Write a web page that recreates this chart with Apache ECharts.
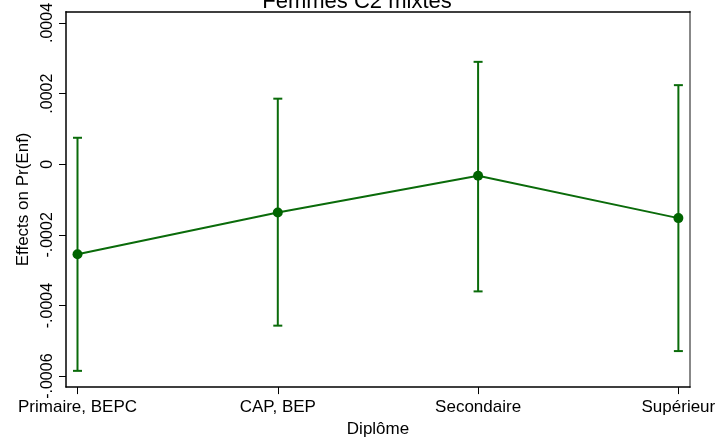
<!DOCTYPE html>
<html>
<head>
<meta charset="utf-8">
<script src="https://cdn.jsdelivr.net/npm/echarts@6/dist/echarts.min.js"></script>
<style>html,body{margin:0;padding:0;background:#fff}#c{width:721px;height:443px}</style>
</head>
<body>
<div id="c"></div>
<script>
var categories = ['Primaire, BEPC', 'CAP, BEP', 'Secondaire', 'Supérieur'];
var effects = [-0.000255, -0.0001365, -0.0000326, -0.0001525];
var upper = [0.000075, 0.0001857, 0.00029, 0.000224];
var lower = [-0.000585, -0.000457, -0.00036, -0.000529];
var yTicks = [-0.0006, -0.0004, -0.0002, 0, 0.0002, 0.0004];
var yTickLabels = ['-.0006', '-.0004', '-.0002', '0', '.0002', '.0004'];

var green = '#0a6b0a';
var font = "'Liberation Sans', Arial, sans-serif";

var lineData = effects.map(function (v, i) { return [i, v]; });
var barData = effects.map(function (v, i) { return [i, lower[i], upper[i]]; });

var chart = echarts.init(document.getElementById('c'), null, {renderer: 'canvas'});
chart.setOption({
  animation: false,
  backgroundColor: '#fff',
  title: {
    text: 'Femmes C2 mixtes',
    left: 352, top: -14, textAlign: 'center',
    textStyle: {fontFamily: font, fontSize: 22, fontWeight: 'normal', color: '#000'}
  },
  grid: {left: 66, top: 9.5, right: 31, bottom: 55},
  xAxis: [{
    type: 'value', min: -0.0574, max: 3.058,
    name: 'Diplôme', nameLocation: 'middle', nameGap: 30,
    nameTextStyle: {fontFamily: font, fontSize: 17, color: '#000'},
    axisLine: {show: true, onZero: false, lineStyle: {color: '#000', width: 1.5}},
    axisTick: {show: true, length: 7, customValues: [0, 1, 2, 3], lineStyle: {color: '#000'}},
    axisLabel: {
      customValues: [0, 1, 2, 3], margin: 12,
      fontFamily: font, fontSize: 17, color: '#000',
      formatter: function (v) { return categories[Math.round(v)]; }
    },
    splitLine: {show: false}
  }, {
    type: 'value', position: 'top', min: -0.0574, max: 3.058,
    axisLine: {show: true, onZero: false, lineStyle: {color: '#000', width: 1.5}},
    axisTick: {show: false}, axisLabel: {show: false}, splitLine: {show: false}
  }],
  yAxis: [{
    type: 'value', min: -0.000631, max: 0.000432,
    name: 'Effects on Pr(Enf)', nameLocation: 'middle', nameGap: 31, nameRotate: 90,
    nameTextStyle: {fontFamily: font, fontSize: 17, color: '#000'},
    axisLine: {show: true, onZero: false, lineStyle: {color: '#000', width: 1.5}},
    axisTick: {show: true, length: 7, customValues: yTicks, lineStyle: {color: '#000'}},
    axisLabel: {
      customValues: yTicks, rotate: 90, margin: 10,
      fontFamily: font, fontSize: 16, color: '#000',
      formatter: function (v) {
        for (var i = 0; i < yTicks.length; i++) { if (Math.abs(yTicks[i] - v) < 1e-9) return yTickLabels[i]; }
        return '';
      }
    },
    splitLine: {show: false}
  }, {
    type: 'value', position: 'right', min: -0.000631, max: 0.000432,
    axisLine: {show: true, onZero: false, lineStyle: {color: '#888', width: 2}},
    axisTick: {show: false}, axisLabel: {show: false}, splitLine: {show: false}
  }],
  series: [{
    type: 'custom',
    data: barData,
    encode: {x: 0, y: [1, 2]},
    renderItem: function (params, api) {
      var x = api.value(0);
      var lo = api.coord([x, api.value(1)]);
      var hi = api.coord([x, api.value(2)]);
      var hw = 4.5;
      var st = {stroke: green, lineWidth: 2};
      return {
        type: 'group',
        children: [
          {type: 'line', shape: {x1: lo[0], y1: lo[1], x2: hi[0], y2: hi[1]}, style: st},
          {type: 'line', shape: {x1: lo[0] - hw, y1: lo[1], x2: lo[0] + hw, y2: lo[1]}, style: st},
          {type: 'line', shape: {x1: hi[0] - hw, y1: hi[1], x2: hi[0] + hw, y2: hi[1]}, style: st}
        ]
      };
    },
    z: 2
  }, {
    type: 'line',
    data: lineData,
    symbol: 'circle', symbolSize: 10,
    itemStyle: {color: '#006400'},
    lineStyle: {color: green, width: 2},
    z: 3
  }]
});
</script>
</body>
</html>
